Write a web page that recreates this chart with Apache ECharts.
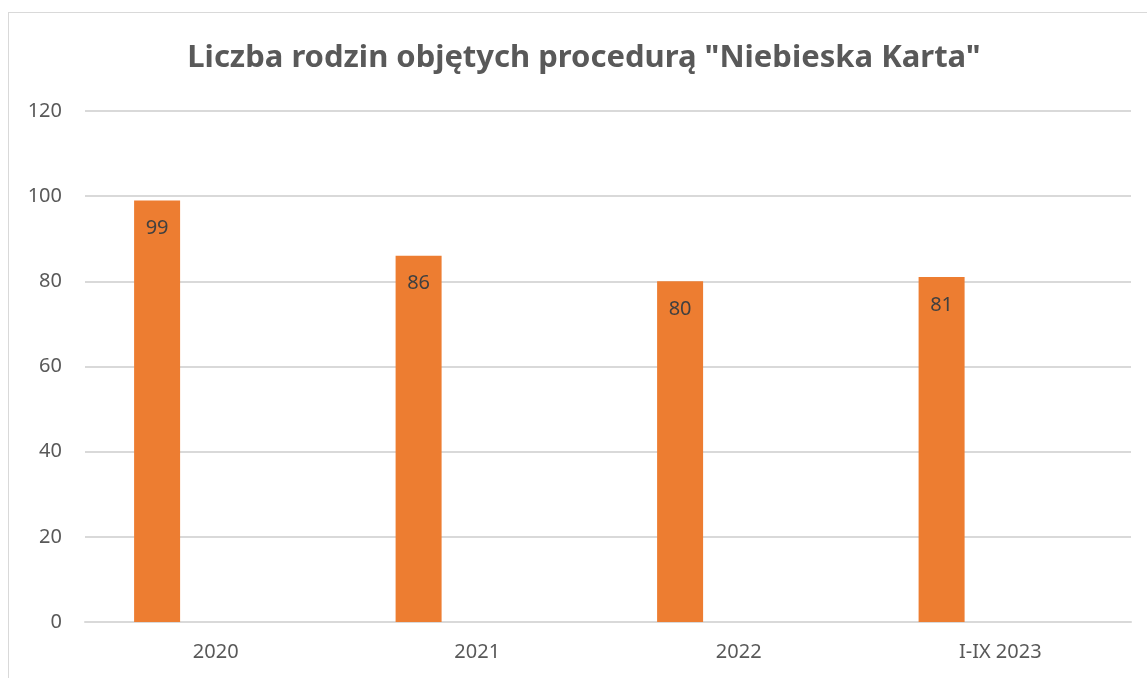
<!DOCTYPE html>
<html>
<head>
<meta charset="utf-8">
<script src="https://cdn.jsdelivr.net/npm/echarts@6/dist/echarts.min.js"></script>
<style>
	html, body { margin: 0; padding: 0; background: #fff; overflow: hidden; }
	#frame { position: absolute; left: 8px; top: 12px; width: 1300px; height: 800px; border: 1px solid #d9d9d9; }
	#main { position: absolute; left: 0; top: 0; width: 1147px; height: 678px; }
</style>
</head>
<body>
<div id="frame"></div>
<div id="main"></div>
<script>
var categories = [ '2020', '2021', '2022', 'I-IX 2023' ];
var families = [ 99, 86, 80, 81 ];
var emptySeries = [ '-', '-', '-', '-' ];

var chart = echarts.init(document.getElementById('main'));

var option = {
	title : {
		text : 'Liczba rodzin objętych procedurą "Niebieska Karta"',
		left : 579,
		textAlign : 'center',
		top : 38,
		textStyle : {
			fontFamily : 'Noto Sans',
			fontSize : 31,
			fontWeight : 'bold',
			color : '#595959'
		}
	},
	grid : {
		left : 85,
		right : 16,
		top : 111,
		bottom : 56
	},
	xAxis : {
		type : 'category',
		data : categories,
		axisLine : {
			lineStyle : {
				color : '#d9d9d9',
				width : 2
			}
		},
		axisTick : {
			show : false
		},
		axisLabel : {
			margin : 20,
			fontFamily : 'Noto Sans',
			fontSize : 20,
			color : '#595959'
		}
	},
	yAxis : {
		type : 'value',
		min : 0,
		max : 120,
		interval : 20,
		axisLine : {
			show : false
		},
		axisTick : {
			show : false
		},
		splitLine : {
			lineStyle : {
				color : '#d9d9d9',
				width : 2
			}
		},
		axisLabel : {
			margin : 23,
			fontFamily : 'Noto Sans',
			fontSize : 20,
			color : '#595959'
		}
	},
	series : [ {
		type : 'bar',
		data : families,
		barWidth : 46,
		barGap : '155%',
		itemStyle : {
			color : '#ed7d31'
		},
		label : {
			show : true,
			position : 'insideTop',
			distance : 18,
			fontFamily : 'Noto Sans',
			fontSize : 20,
			color : '#404040'
		}
	}, {
		type : 'bar',
		data : emptySeries,
		barWidth : 46
	} ]
};

chart.setOption(option);
</script>
</body>
</html>
